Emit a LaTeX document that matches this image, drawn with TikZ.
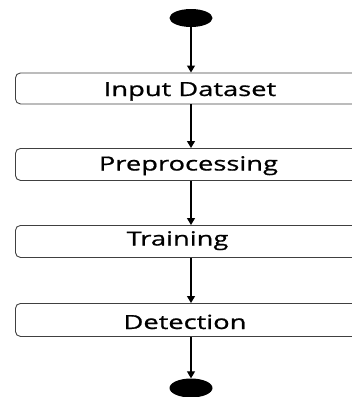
\documentclass[tikz,border=0pt]{standalone}
\usepackage{fontspec}
\setmainfont{Open Sans}
\newfontfamily\widefont[FakeStretch=1.4,FakeBold=0.8]{Open Sans}
\usetikzlibrary{arrows.meta,shapes.geometric}
\begin{document}
\begin{tikzpicture}[x=1pt,y=-1pt,
  stepbox/.style={draw=black!75, line width=0.9pt, rounded corners=5pt, minimum width=350pt, inner sep=0pt, anchor=north west},
  lbl/.style={font=\widefont\fontsize{19.5}{23}\selectfont, inner sep=0pt, anchor=base},
  term/.style={ellipse, fill=black, minimum width=43pt, minimum height=18pt, inner sep=0pt},
  conn/.style={line width=1.2pt, -{Triangle[length=7pt,width=8pt]}}]
\useasboundingbox (0,0) rectangle (352,397);
\node[term] (s) at (191,18) {};
\node[stepbox, minimum height=31pt] (b1) at (15,72.5) {};
\node[stepbox, minimum height=32pt] (b2) at (15,148) {};
\node[stepbox, minimum height=32pt] (b3) at (15,225) {};
\node[stepbox, minimum height=33pt] (b4) at (15,303) {};
\node[term, minimum height=19pt] (e) at (191,388) {};
\node[lbl] (t1) at (190,96) {Input Dataset};
\node[lbl] (t2) at (188.5,170.5) {Preprocessing};
\node[lbl] (t3) at (177.5,245.5) {Training};
\node[lbl] (t4) at (185,329) {Detection};
\draw[conn] (s) -- (s |- b1.north);
\draw[conn] (s |- b1.south) -- (s |- b2.north);
\draw[conn] (s |- b2.south) -- (s |- b3.north);
\draw[conn] (s |- b3.south) -- (s |- b4.north);
\draw[conn] (s |- b4.south) -- (e);
\end{tikzpicture}
\end{document}
